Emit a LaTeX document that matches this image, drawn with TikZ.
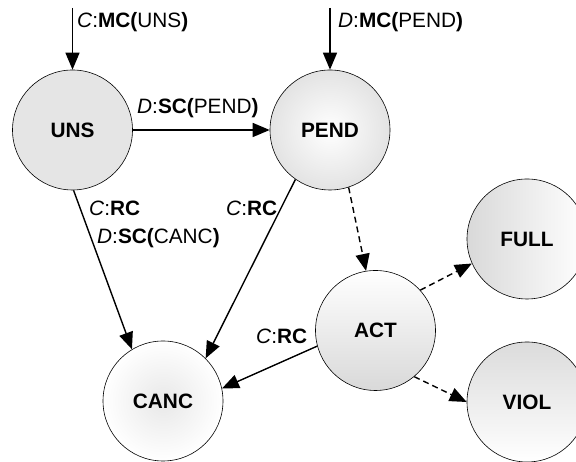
\documentclass[tikz,border=0pt]{standalone}
\usepackage{fontspec}
\setmainfont{Liberation Sans}
\usetikzlibrary{arrows.meta}
\newcommand{\evlab}[2]{\textit{#1}:\textbf{#2}}
\newcommand{\evarg}[3]{\textit{#1}:\textbf{#2(}#3\textbf{)}}
\tikzset{
  state/.style={circle,draw,line width=0.6pt,minimum size=120pt,inner sep=0pt,
    font=\fontsize{20.8}{24}\selectfont\bfseries},
  trans/.style={line width=1.4pt,-{Triangle[length=17pt,width=14pt]}},
  opt/.style={dash pattern=on 6pt off 4pt},
  evtext/.style={anchor=base west,inner sep=0pt,font=\fontsize{20.8}{24}\selectfont}
}

\begin{document}
\begin{tikzpicture}[x=1pt,y=1pt]
\useasboundingbox (0,0) rectangle (576,462);
% states
\node[state,fill=gray!20] (UNS) at (72.5,332) {UNS};
\node[state,inner color=white,outer color=gray!22] (PEND) at (330,332) {PEND};
\node[state,inner color=gray!18,outer color=white] (CANC) at (163,61) {CANC};
\node[state,shading angle=45,top color=white,bottom color=gray!30] (ACT) at (375.5,131.5) {ACT};
\node[state,left color=gray!30,right color=white] (FULL) at (527,223) {FULL};
\node[state,top color=gray!28,bottom color=white] (VIOL) at (527,60) {VIOL};
\coordinate (cIn) at (72.5,454);
\coordinate (dIn) at (330,454);
% transitions
\draw[trans] (cIn) -- (UNS.north);
\draw[trans] (dIn) -- (PEND.north);
\draw[trans] (UNS.east) -- (PEND.west);
\draw[trans] (UNS.-89) -- (CANC.121);
\draw[trans] (PEND.-125) -- (CANC.45);
\draw[trans] (ACT.195) -- (CANC.12);
\draw[trans,opt] (PEND.-72) -- (ACT.99);
\draw[trans,opt] (ACT.42) -- (FULL.-156);
\draw[trans,opt] (ACT.-50) -- (VIOL.west);
% labels
\node[evtext] (lUNS) at (77,434.5) {\evarg{C}{MC}{UNS}};
\node[evtext] (lPEND) at (338,434.5) {\evarg{D}{MC}{PEND}};
\node[evtext] (lSCP) at (137,348.5) {\evarg{D}{SC}{PEND}};
\node[evtext] (lRC1) at (89,246) {\evlab{C}{RC}};
\node[evtext] (lSCC) at (97,218) {\evarg{D}{SC}{CANC}};
\node[evtext] (lRC2) at (226,246) {\evlab{C}{RC}};
\node[evtext] (lRC3) at (256,118) {\evlab{C}{RC}};
\end{tikzpicture}
\end{document}
